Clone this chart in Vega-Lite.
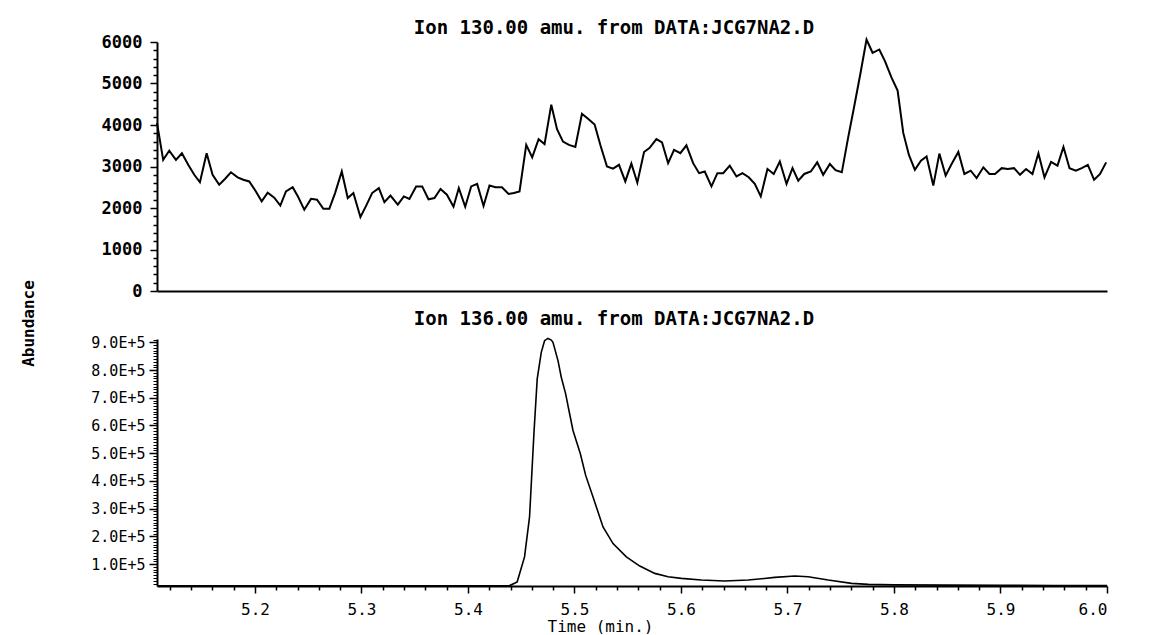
{
  "$schema": "https://vega.github.io/schema/vega-lite/v6.json",
  "background": "white",
  "padding": {"top": 19, "left": 20, "right": 5, "bottom": 0},
  "spacing": 48,
  "bounds": "flush",
  "config": {
    "view": {"stroke": null},
    "font": "DejaVu Sans Mono",
    "axis": {
      "domainColor": "black", "domainWidth": 2, "tickColor": "black", "tickWidth": 1.5,
      "labelColor": "black", "labelFont": "DejaVu Sans Mono", "labelFontSize": 16,
      "titleFont": "DejaVu Sans Mono", "titleFontSize": 16, "titleFontWeight": "bold", "titleColor": "black",
      "grid": false
    },
    "title": {"font": "DejaVu Sans Mono", "fontSize": 19, "fontWeight": "bold", "color": "black"}
  },
  "datasets": {
    "ion130": [
      {"t":5.108,"a":4050},{"t":5.1138,"a":3160},{"t":5.1195,"a":3380},{"t":5.1258,"a":3160},{"t":5.1314,"a":3320},
      {"t":5.1373,"a":3040},{"t":5.143,"a":2800},{"t":5.1483,"a":2620},{"t":5.1546,"a":3320},{"t":5.1602,"a":2800},
      {"t":5.1664,"a":2560},{"t":5.1718,"a":2700},{"t":5.1774,"a":2860},{"t":5.1837,"a":2740},{"t":5.189,"a":2680},
      {"t":5.1946,"a":2640},{"t":5.2003,"a":2420},{"t":5.2063,"a":2160},{"t":5.2119,"a":2370},{"t":5.2181,"a":2250},
      {"t":5.2238,"a":2060},{"t":5.2291,"a":2400},{"t":5.2354,"a":2500},{"t":5.2407,"a":2260},{"t":5.2463,"a":1960},
      {"t":5.2526,"a":2220},{"t":5.2583,"a":2200},{"t":5.2642,"a":1980},{"t":5.2698,"a":1980},{"t":5.2752,"a":2360},
      {"t":5.2815,"a":2880},{"t":5.2871,"a":2240},{"t":5.2924,"a":2360},{"t":5.299,"a":1780},{"t":5.3043,"a":2050},
      {"t":5.31,"a":2360},{"t":5.3163,"a":2480},{"t":5.3215,"a":2140},{"t":5.3272,"a":2300},{"t":5.3341,"a":2080},
      {"t":5.3398,"a":2280},{"t":5.345,"a":2220},{"t":5.3513,"a":2520},{"t":5.357,"a":2520},{"t":5.3629,"a":2210},
      {"t":5.3685,"a":2240},{"t":5.3742,"a":2460},{"t":5.3802,"a":2320},{"t":5.3864,"a":2030},{"t":5.3914,"a":2480},
      {"t":5.3974,"a":2030},{"t":5.403,"a":2520},{"t":5.4086,"a":2580},{"t":5.4146,"a":2050},{"t":5.4202,"a":2540},
      {"t":5.4258,"a":2500},{"t":5.4319,"a":2500},{"t":5.4381,"a":2340},{"t":5.4431,"a":2360},{"t":5.4484,"a":2400},
      {"t":5.4547,"a":3520},{"t":5.4603,"a":3220},{"t":5.4663,"a":3660},{"t":5.4719,"a":3540},{"t":5.4782,"a":4490},
      {"t":5.4836,"a":3900},{"t":5.4892,"a":3600},{"t":5.4948,"a":3520},{"t":5.5008,"a":3470},{"t":5.507,"a":4270},
      {"t":5.5127,"a":4150},{"t":5.5189,"a":4010},{"t":5.5245,"a":3500},{"t":5.5305,"a":3000},{"t":5.5362,"a":2950},
      {"t":5.5418,"a":3040},{"t":5.5477,"a":2640},{"t":5.5534,"a":3070},{"t":5.559,"a":2610},{"t":5.5653,"a":3350},
      {"t":5.5706,"a":3450},{"t":5.5769,"a":3660},{"t":5.5822,"a":3580},{"t":5.5879,"a":3080},{"t":5.5935,"a":3400},
      {"t":5.5994,"a":3320},{"t":5.6051,"a":3510},{"t":5.6114,"a":3080},{"t":5.617,"a":2840},{"t":5.6223,"a":2880},
      {"t":5.6286,"a":2520},{"t":5.6342,"a":2840},{"t":5.6396,"a":2840},{"t":5.6458,"a":3020},{"t":5.6521,"a":2760},
      {"t":5.6577,"a":2840},{"t":5.6636,"a":2740},{"t":5.6693,"a":2580},{"t":5.6749,"a":2280},{"t":5.6812,"a":2940},
      {"t":5.6871,"a":2820},{"t":5.6928,"a":3120},{"t":5.6991,"a":2580},{"t":5.7047,"a":2960},{"t":5.7101,"a":2660},
      {"t":5.7157,"a":2820},{"t":5.7219,"a":2880},{"t":5.7279,"a":3100},{"t":5.7335,"a":2800},{"t":5.7398,"a":3060},
      {"t":5.7451,"a":2910},{"t":5.751,"a":2860},{"t":5.7569,"a":3690},{"t":5.7628,"a":4470},{"t":5.7686,"a":5260},
      {"t":5.7742,"a":6060},{"t":5.7799,"a":5740},{"t":5.7862,"a":5820},{"t":5.7915,"a":5540},{"t":5.7977,"a":5140},
      {"t":5.8034,"a":4830},{"t":5.8087,"a":3810},{"t":5.814,"a":3280},{"t":5.8196,"a":2920},{"t":5.8253,"a":3140},
      {"t":5.8306,"a":3240},{"t":5.8369,"a":2540},{"t":5.8426,"a":3310},{"t":5.8485,"a":2780},{"t":5.8541,"a":3060},
      {"t":5.8604,"a":3350},{"t":5.8661,"a":2820},{"t":5.872,"a":2900},{"t":5.8776,"a":2720},{"t":5.8839,"a":2980},
      {"t":5.8896,"a":2820},{"t":5.8948,"a":2820},{"t":5.9011,"a":2960},{"t":5.9068,"a":2940},{"t":5.9127,"a":2960},
      {"t":5.9183,"a":2800},{"t":5.924,"a":2940},{"t":5.93,"a":2820},{"t":5.9356,"a":3320},{"t":5.9413,"a":2740},
      {"t":5.9475,"a":3110},{"t":5.9535,"a":3020},{"t":5.9591,"a":3470},{"t":5.9648,"a":2960},{"t":5.9707,"a":2900},
      {"t":5.9763,"a":2960},{"t":5.982,"a":3040},{"t":5.9879,"a":2680},{"t":5.9935,"a":2820},{"t":5.9992,"a":3100}
    ],
    "ion136": [
      {"t":5.109,"a":22000},{"t":5.15,"a":22000},{"t":5.2,"a":22000},{"t":5.25,"a":22000},{"t":5.3,"a":22000},
      {"t":5.35,"a":22000},{"t":5.4,"a":22000},{"t":5.4392,"a":22500},{"t":5.4462,"a":36000},{"t":5.4531,"a":126000},
      {"t":5.4578,"a":270000},{"t":5.4619,"a":570000},{"t":5.465,"a":768000},{"t":5.4688,"a":864000},{"t":5.4719,"a":906000},
      {"t":5.4751,"a":914000},{"t":5.4782,"a":908000},{"t":5.4798,"a":900000},{"t":5.4845,"a":834000},{"t":5.4876,"a":774000},
      {"t":5.4917,"a":714000},{"t":5.4948,"a":654000},{"t":5.4986,"a":582000},{"t":5.5055,"a":498000},{"t":5.5105,"a":420000},
      {"t":5.5174,"a":342000},{"t":5.5268,"a":234000},{"t":5.5362,"a":174000},{"t":5.5487,"a":126000},{"t":5.5613,"a":93000},
      {"t":5.5754,"a":66500},{"t":5.5879,"a":54300},{"t":5.6004,"a":48500},{"t":5.6192,"a":42400},{"t":5.6411,"a":38800},
      {"t":5.6631,"a":42400},{"t":5.6881,"a":52000},{"t":5.7069,"a":56800},{"t":5.7194,"a":54300},{"t":5.7382,"a":42400},
      {"t":5.7602,"a":30500},{"t":5.7759,"a":27000},{"t":5.8,"a":25000},{"t":5.85,"a":24000},{"t":5.9,"a":23500},
      {"t":5.95,"a":23000},{"t":6.0,"a":23000}
    ]
  },
  "vconcat": [
    {
      "width": 950,
      "height": 249,
      "title": {"text": "Ion 130.00 amu. from DATA:JCG7NA2.D", "baseline": "alphabetic", "offset": -20, "dx": -18},
      "data": {"name": "ion130"},
      "layer": [
        {
          "mark": {"type": "line", "color": "black", "strokeWidth": 2},
          "encoding": {
            "x": {"field": "t", "type": "quantitative",
                  "scale": {"domain": [5.108, 6.0], "nice": false, "zero": false},
                  "axis": {"labels": false, "ticks": false, "title": null}},
            "y": {"field": "a", "type": "quantitative",
                  "scale": {"domain": [0, 6000], "nice": false},
                  "axis": {"values": [0, 1000, 2000, 3000, 4000, 5000, 6000], "format": "d", "tickSize": 7,
                           "labelPadding": 8, "labelFontWeight": "bold", "labelFontSize": 17,
                           "title": "Abundance", "titleX": -124, "titleY": 281, "titleAngle": -90,
                           "titleAlign": "center", "titleBaseline": "alphabetic"}}
          }
        },
        {
          "mark": {"type": "line", "opacity": 0},
          "encoding": {
            "x": {"field": "t", "type": "quantitative", "axis": null},
            "y": {"field": "a", "type": "quantitative",
                  "axis": {"orient": "left", "values": [200,400,600,800,1200,1400,1600,1800,2200,2400,2600,2800,3200,3400,3600,3800,4200,4400,4600,4800,5200,5400,5600,5800],
                           "labels": false, "domain": false, "tickSize": 4, "title": null}}
          }
        }
      ],
      "resolve": {"axis": {"y": "independent", "x": "independent"}}
    },
    {
      "width": 950,
      "height": 247,
      "title": {"text": "Ion 136.00 amu. from DATA:JCG7NA2.D", "baseline": "alphabetic", "offset": -9, "dx": -18},
      "data": {"name": "ion136"},
      "layer": [
        {
          "mark": {"type": "line", "color": "black", "strokeWidth": 1.6},
          "encoding": {
            "x": {"field": "t", "type": "quantitative",
                  "scale": {"domain": [5.108, 6.0], "nice": false, "zero": false},
                  "axis": {"values": [5.2, 5.3, 5.4, 5.5, 5.6, 5.7, 5.8, 5.9, 6.0], "format": ".1f", "tickSize": 7,
                           "labelPadding": 8, "title": "Time (min.)", "titleX": 443, "titleY": 32,
                           "titleBaseline": "top", "titleAlign": "center", "titleFontWeight": "normal"}},
            "y": {"field": "a", "type": "quantitative",
                  "scale": {"domain": [21000, 912000], "nice": false, "zero": false},
                  "axis": {"values": [100000,200000,300000,400000,500000,600000,700000,800000,900000],
                           "labelExpr": "format(datum.value/100000,'.1f')+'E+5'", "tickSize": 8, "labelPadding": 4,
                           "labelFontSize": 15, "title": null}}
          }
        },
        {
          "mark": {"type": "line", "opacity": 0},
          "encoding": {
            "x": {"field": "t", "type": "quantitative",
                  "axis": {"orient": "bottom", "values": [5.12,5.14,5.16,5.18,5.22,5.24,5.26,5.28,5.32,5.34,5.36,5.38,5.42,5.44,5.46,5.48,5.52,5.54,5.56,5.58,5.62,5.64,5.66,5.68,5.72,5.74,5.76,5.78,5.82,5.84,5.86,5.88,5.92,5.94,5.96,5.98],
                           "labels": false, "domain": false, "tickSize": 4, "title": null}},
            "y": {"field": "a", "type": "quantitative",
                  "axis": {"orient": "left", "values": [30000,40000,50000,60000,70000,80000,90000,110000,120000,130000,140000,150000,160000,170000,180000,190000,210000,220000,230000,240000,250000,260000,270000,280000,290000,310000,320000,330000,340000,350000,360000,370000,380000,390000,410000,420000,430000,440000,450000,460000,470000,480000,490000,510000,520000,530000,540000,550000,560000,570000,580000,590000,610000,620000,630000,640000,650000,660000,670000,680000,690000,710000,720000,730000,740000,750000,760000,770000,780000,790000,810000,820000,830000,840000,850000,860000,870000,880000,890000,910000],
                           "labels": false, "domain": false, "tickSize": 4, "tickWidth": 1, "title": null}}
          }
        }
      ],
      "resolve": {"axis": {"y": "independent", "x": "independent"}}
    }
  ]
}
